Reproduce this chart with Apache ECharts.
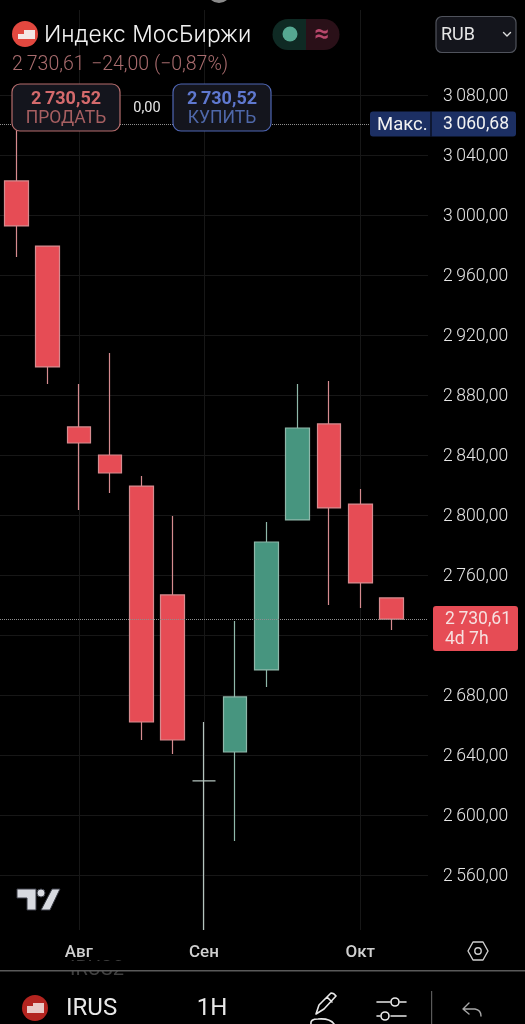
<!DOCTYPE html>
<html>
<head>
<meta charset="utf-8">
<style>
  html, body { margin: 0; padding: 0; background: #000; overflow: hidden; }
  #chart { width: 525px; height: 1024px; }
</style>
</head>
<body>
<div id="chart"></div>
<script src="https://cdn.jsdelivr.net/npm/echarts@6/dist/echarts.min.js"></script>
<script>
// candle index, open, close, low, high
const candles = [
  [0, 3022.7, 2992.7, 2972.0, 3060.68],
  [1, 2979.3, 2898.7, 2887.3, 2979.3],
  [2, 2858.7, 2848.0, 2803.3, 2887.3],
  [3, 2840.0, 2828.0, 2814.7, 2908.0],
  [4, 2819.3, 2662.0, 2650.0, 2826.0],
  [5, 2746.7, 2650.0, 2640.7, 2799.3],
  [6, 2622.7, 2622.7, 2523.3, 2662.0],
  [7, 2642.0, 2678.7, 2582.7, 2729.3],
  [8, 2696.7, 2782.0, 2685.3, 2795.3],
  [9, 2796.7, 2858.0, 2796.7, 2887.3],
  [10, 2860.7, 2804.7, 2740.0, 2889.3],
  [11, 2807.3, 2754.7, 2738.0, 2817.3],
  [12, 2744.7, 2730.61, 2723.3, 2744.7]
];
const dojiIndex = 6;
const priceTicks = [3080, 3040, 3000, 2960, 2920, 2880, 2840, 2800, 2760, 2720, 2680, 2640, 2600, 2560];
const hiddenTicks = [2720];
const monthTicks = [2, 6, 11];
const monthNames = ['Авг', 'Сен', 'Окт'];
const maxPrice = 3060.68;
const lastPrice = 2730.61;

const UP = '#47957f', DOWN = '#e64c55';
const FONT = 'Roboto, sans-serif';

function money(v) {
  const s = v.toFixed(2).replace('.', ',');
  return s.charAt(0) + '\u2009' + s.slice(1);
}

function txt(x, y, text, size, fill, extra) {
  return {
    type: 'text', x: x, y: y, silent: true, z: 20,
    style: Object.assign({
      text: text, fill: fill, fontSize: size, fontFamily: FONT, fontWeight: 400,
      align: 'left', verticalAlign: 'middle'
    }, extra || {})
  };
}
function box(x, y, w, h, r, fill, stroke) {
  return {
    type: 'rect', z: 19, silent: true,
    shape: { x: x, y: y, width: w, height: h, r: r },
    style: { fill: fill, stroke: stroke || null, lineWidth: stroke ? 1.2 : 0 }
  };
}
function dot(cx, cy, r, style) {
  return { type: 'circle', z: 20, silent: true, shape: { cx: cx, cy: cy, r: r }, style: style };
}
// the graphic component has no svg path type, so each icon gets its own shape class
let shapeCount = 0;
function icon(d, style, z) {
  const name = 'icon' + (shapeCount++);
  echarts.graphic.registerShape(name, echarts.graphic.extendPath(d, {}));
  return { type: name, z: z || 20, silent: true, style: style };
}
function line(d, color, width) {
  return icon(d, { fill: null, stroke: color, lineWidth: width, lineCap: 'round', lineJoin: 'round' });
}

const chrome = [
  // top of the phone notch
  dot(219, -9, 12, { fill: '#8a8a8a' }),
  // header
  dot(25, 34, 13, { fill: '#e2483f' }),
  icon('M18 34 L24 34 L24 30 L35 30 L35 39 L18 39 Z', { fill: '#f4e6e4' }, 21),
  txt(44, 35, 'Индекс МосБиржи', 22.8, '#f2f2f2', { fontWeight: 300, fontFamily: 'Inter, Roboto, sans-serif' }),
  txt(12, 65, '2\u2009730,61', 19.5, '#a96c6e', { fontWeight: 300 }),
  txt(91, 65, '−24,00 (−0,87%)', 19.5, '#a96c6e', { fontWeight: 300 }),
  icon('M306 19 L288 19 A15.5 15.5 0 0 0 288 50 L306 50 Z', { fill: '#0f2a24' }, 19),
  icon('M306 19 L324 19 A15.5 15.5 0 0 1 324 50 L306 50 Z', { fill: '#2a1018' }, 19),
  dot(290, 34, 7.5, { fill: '#56a892' }),
  txt(322, 35, '≈', 26, '#b8486c', { align: 'center', fontWeight: 700 }),
  box(436, 16.5, 80, 36, 6, '#14151c', '#50535c'),
  txt(441, 35, 'RUB', 18, '#e6e6e6'),
  line('M503.5 32.5 L507 36 L510.5 32.5', '#dddddd', 1.4),

  // sell / buy buttons
  box(12, 84, 108, 47, 8, '#14151d', '#b56d6d'),
  txt(66, 99, '2\u2009730,52', 18, '#d46a6c', { align: 'center', fontWeight: 700 }),
  txt(66, 119, 'ПРОДАТЬ', 17.5, '#a75f61', { align: 'center' }),
  txt(147, 108, '0,00', 14.5, '#e8e8e8', { align: 'center' }),
  box(173, 84, 98, 47, 8, '#14151d', '#4f66b4'),
  txt(222, 99, '2\u2009730,52', 18, '#5f78cf', { align: 'center', fontWeight: 700 }),
  txt(222, 119, 'КУПИТЬ', 17.5, '#4f68aa', { align: 'center' }),

  // TradingView mark
  icon('M17 889 L36 889 L36 910 L27 910 L27 898 L17 898 Z M41 910 L52 889 L60 889 L50 910 Z',
    { fill: '#d8dae0', stroke: '#3a3d46', lineWidth: 1 }),
  dot(41, 893, 4, { fill: '#d8dae0', stroke: '#3a3d46', lineWidth: 1 }),

  // settings hexagon
  line('M468 951 L473 942 L483 942 L488 951 L483 960 L473 960 Z', '#cfcfcf', 1.4),
  dot(478, 951, 3.2, { fill: null, stroke: '#cfcfcf', lineWidth: 1.4 }),

  // bottom toolbar, with the row scrolled under the divider
  txt(97, 970, 'IRUS2', 20, '#3f3f3f', { align: 'center' }),
  { type: 'rect', shape: { x: 60, y: 961, width: 75, height: 9 }, style: { fill: '#000' }, z: 21, silent: true },
  { type: 'rect', shape: { x: 0, y: 970, width: 525, height: 1.4 }, style: { fill: '#5a5a5a' }, z: 22, silent: true },
  dot(35, 1008, 13, { fill: '#b3241f' }),
  icon('M27 1013 L27 1006 L33 1006 L33 1003 L44 1003 L44 1013 Z', { fill: '#e9c9c6' }, 21),
  txt(66, 1009, 'IRUS', 24, '#e8e8e8'),
  txt(212, 1009, '1H', 24, '#e8e8e8', { align: 'center' }),
  line('M316 1014 L319 1005 L331 993 Q334 993 336 996 L324 1009 Z M327 997 L332 1002 M311 1024 Q310 1019 318 1019 Q330 1018 334 1024', '#e8e8e8', 1.6),
  line('M377 1002 L390 1002 M400 1002 L406 1002 M377 1016 L380 1016 M391 1016 L406 1016', '#e8e8e8', 1.6),
  dot(395, 1002, 4, { fill: null, stroke: '#e8e8e8', lineWidth: 1.6 }),
  dot(385, 1016, 4, { fill: null, stroke: '#e8e8e8', lineWidth: 1.6 }),
  { type: 'rect', shape: { x: 431, y: 991, width: 1.2, height: 33 }, style: { fill: '#5a5a5a' }, z: 20, silent: true },
  line('M469 1003 L463 1009 L469 1014 M463 1009 L475 1009 Q481 1010 481 1016', '#a8a8a8', 1.4)
];

const chart = echarts.init(document.getElementById('chart'));

chart.setOption({
  backgroundColor: '#000',
  animation: false,
  grid: { left: 0, top: 10, width: 428, height: 920 },
  xAxis: {
    type: 'value',
    min: -0.521,
    max: 13.166,
    axisLine: { show: false },
    axisTick: { show: false, customValues: monthTicks },
    axisLabel: {
      customValues: monthTicks,
      color: '#cfcfcf', fontFamily: FONT, fontSize: 17, fontWeight: 500, margin: 14,
      formatter: (v) => monthNames[monthTicks.indexOf(v)]
    },
    splitLine: { show: true, lineStyle: { color: '#171717', width: 1 } }
  },
  yAxis: {
    type: 'value',
    position: 'right',
    min: 2523.33,
    max: 3136.67,
    axisLine: { show: false },
    axisTick: { show: false, customValues: priceTicks },
    axisLabel: {
      customValues: priceTicks.filter((v) => !hiddenTicks.includes(v)),
      margin: 15,
      formatter: (v) => '{p|' + money(v) + '}',
      rich: {
        p: {
          color: '#e6e6e6', fontFamily: FONT, fontSize: 17.5, fontWeight: 300,
          padding: [4, 0, 0, 0]
        }
      }
    },
    splitLine: { show: true, lineStyle: { color: '#171717', width: 1 } }
  },
  series: [{
    type: 'candlestick',
    barWidth: 24,
    encode: { x: 0, y: [1, 2, 3, 4] },
    itemStyle: {
      color: UP, color0: DOWN,
      borderColor: '#8fb8aa', borderColor0: '#d68b8f',
      borderWidth: 1.2
    },
    data: candles.map((c, i) => i === dojiIndex
      ? { value: c, itemStyle: { color: '#b4c4be', borderColor: '#b4c4be' } }
      : c),
    markLine: {
      silent: true,
      symbol: 'none',
      label: { show: false },
      lineStyle: { type: 'dotted', color: '#8f8f8f', width: 1 },
      data: [{ yAxis: maxPrice }, { yAxis: lastPrice }]
    }
  }],
  graphic: chrome
});

// price tags sit on the axis at their own values
const maxY = chart.convertToPixel({ yAxisIndex: 0 }, maxPrice);
const lastY = chart.convertToPixel({ yAxisIndex: 0 }, lastPrice);
chart.setOption({
  graphic: [
    box(370, maxY - 12.5, 146, 25, 3, '#1c2f63'),
    { type: 'rect', shape: { x: 430.5, y: maxY - 12.5, width: 1, height: 25 }, style: { fill: '#000' }, z: 20, silent: true },
    txt(377, maxY + 1, 'Макс.', 18.5, '#f2f2f2'),
    txt(443, maxY + 1, money(maxPrice), 17.5, '#f2f2f2'),
    box(433, lastY - 13, 85, 45, 3, DOWN),
    txt(445, lastY + 1, money(lastPrice), 17.5, '#f6e0e0'),
    txt(445, lastY + 21, '4d 7h', 17.5, '#f6e0e0')
  ].map((el, i) => Object.assign(el, { id: 'tag' + i }))
});
</script>
</body>
</html>
